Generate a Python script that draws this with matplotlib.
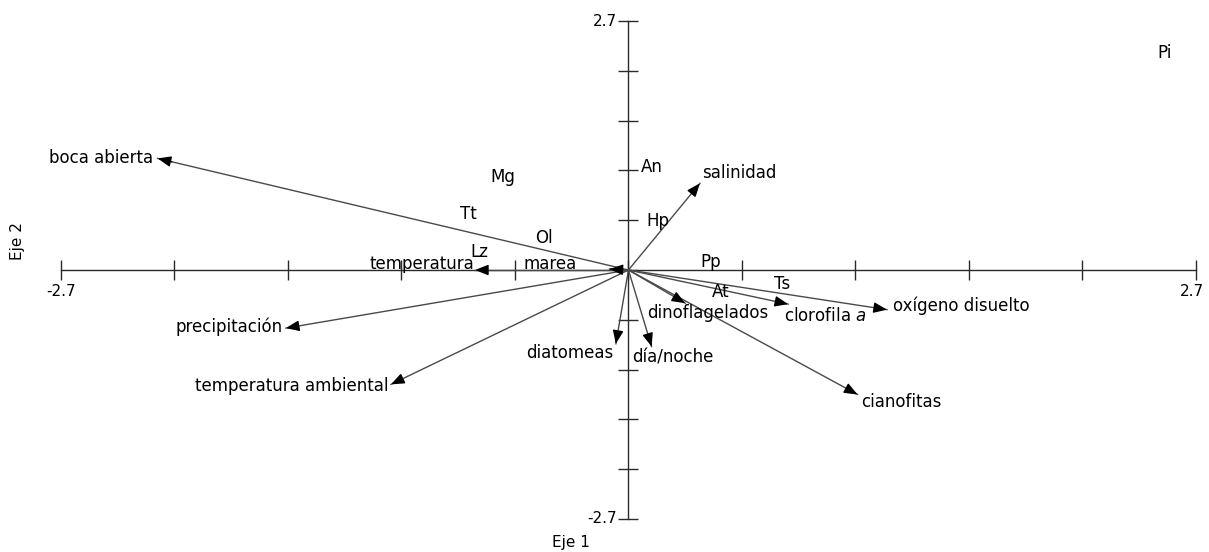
import matplotlib.pyplot as plt
import numpy as np

# variable vectors (Eje 1, Eje 2)
var_names = ['boca abierta', 'temperatura', 'marea', 'salinidad', 'precipitación',
             'temperatura ambiental', 'diatomeas', 'día/noche', 'dinoflagelados',
             'clorofila $a$', 'oxígeno disuelto', 'cianofitas']
var_x = [-2.24, -0.73, -0.09, 0.34, -1.63, -1.13, -0.06, 0.11, 0.27, 0.76, 1.23, 1.09]
var_y = [1.21, 0.0, 0.01, 0.94, -0.63, -1.24, -0.80, -0.83, -0.36, -0.37, -0.43, -1.35]

# sites
site_names = ['Pi', 'Mg', 'An', 'Tt', 'Hp', 'Ol', 'Lz', 'Pp', 'Ts', 'At']
site_x = [2.55, -0.60, 0.11, -0.76, 0.14, -0.40, -0.71, 0.39, 0.73, 0.44]
site_y = [2.35, 1.01, 1.12, 0.61, 0.53, 0.35, 0.20, 0.09, -0.15, -0.24]

lim = 2.7
ticks = np.linspace(-lim, lim, 11)

# label placement for the vectors: (x, y, ha)
lab_pos = [(-2.26, 1.22, 'right'), (-0.735, 0.07, 'right'), (-0.50, 0.065, 'left'),
           (0.35, 1.05, 'left'), (-1.645, -0.62, 'right'), (-1.14, -1.26, 'right'),
           (-0.072, -0.90, 'right'), (0.018, -0.95, 'left'), (0.088, -0.47, 'left'),
           (0.74, -0.50, 'left'), (1.26, -0.39, 'left'), (1.108, -1.43, 'left')]

plt.rcParams['font.family'] = ['DejaVu Sans']
fig = plt.figure(figsize=(12.09, 5.52), dpi=100)
ax = fig.add_axes([0, 0, 1, 1])
ax.set_xlim(-2.99, 2.762)
ax.set_ylim(-3.058, 2.928)
ax.axis('off')

axc = '#2a2a2a'
ax.plot([-lim, lim], [0, 0], color=axc, lw=1)
ax.plot([0, 0], [-lim, lim], color=axc, lw=1)
ax.plot(ticks, np.zeros_like(ticks), ls='none', marker='|', ms=14, mew=1, color=axc)
ax.plot(np.zeros_like(ticks), ticks, ls='none', marker='_', ms=14, mew=1, color=axc)

ax.annotate('-2.7', (-lim, 0), xytext=(0, -10), textcoords='offset points',
            ha='center', va='top', fontsize=11)
ax.annotate('2.7', (lim, 0), xytext=(-3, -10), textcoords='offset points',
            ha='center', va='top', fontsize=11)
ax.annotate('2.7', (0, lim), xytext=(-8, 0), textcoords='offset points',
            ha='right', va='center', fontsize=11)
ax.annotate('-2.7', (0, -lim), xytext=(-8, 0), textcoords='offset points',
            ha='right', va='center', fontsize=11)
ax.text(-0.276, -2.96, 'Eje 1', ha='center', va='center', fontsize=11)
ax.text(-2.905, 0.31, 'Eje 2', ha='center', va='center', fontsize=11, rotation=90)

for name, x, y, (lx, ly, ha) in zip(var_names, var_x, var_y, lab_pos):
    ax.plot([0, x], [0, y], color='#4a4a4a', lw=1)
    ax.annotate('', xy=(x, y), xytext=(x * 0.97, y * 0.97),
                arrowprops=dict(arrowstyle='-|>,head_length=0.5,head_width=0.2',
                                color='black', lw=1,
                                mutation_scale=16, shrinkA=0, shrinkB=0))
    ax.text(lx, ly, name, ha=ha, va='center', fontsize=12)

for name, x, y in zip(site_names, site_x, site_y):
    ax.text(x, y, name, ha='center', va='center', fontsize=12)

fig.savefig('out.png', dpi=100)
